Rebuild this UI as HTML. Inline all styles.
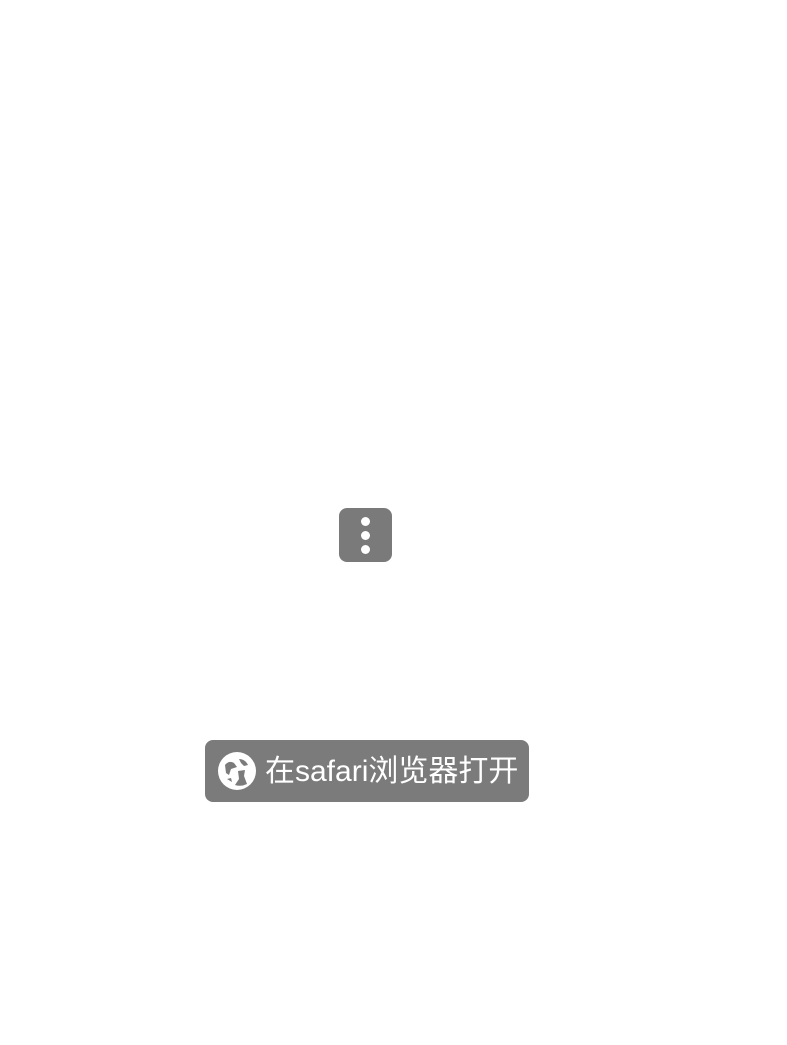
<!DOCTYPE html>
<html><head><meta charset="utf-8"><style>
html,body{margin:0;padding:0;background:#fff;width:787px;height:1045px;overflow:hidden;position:relative}
.menu{position:absolute;left:339px;top:508px;width:53px;height:54px;background:#7a7a7a;border-radius:8px}
.dot{position:absolute;left:22px;width:9px;height:9px;border-radius:50%;background:#fff}
.btn{position:absolute;left:205px;top:740px;width:324px;height:62px;background:#7a7b7a;border-radius:8px}
.txt{position:absolute;left:265px;top:752px;font-family:"Liberation Sans","Noto Sans CJK SC",sans-serif;font-size:30px;line-height:40px;color:#fff;white-space:nowrap;letter-spacing:0px}
</style></head><body>
<div class="menu"><div class="dot" style="top:9px"></div><div class="dot" style="top:23px"></div><div class="dot" style="top:37px"></div></div>
<div class="btn"></div>
<svg style="position:absolute;left:217px;top:751px" width="40" height="40" viewBox="0 0 40 40">
<circle cx="20" cy="20" r="19" fill="#fff"/>
<path d="M8 14 Q12 9 17 12 L20 16 L14 18 L12 24 L9 22 Z" fill="#7a7b7a"/>
<path d="M22 8 Q28 8 31 14 L27 15 L24 12 Z" fill="#7a7b7a"/>
<path d="M21 20 L28 19 L27 25 L30 33 Q24 36 18 34 L22 28 Z" fill="#7a7b7a"/>
<path d="M10 28 L14 27 L15 31 Z" fill="#7a7b7a"/>
</svg>
<div class="txt">在safari浏览器打开</div>
</body></html>
